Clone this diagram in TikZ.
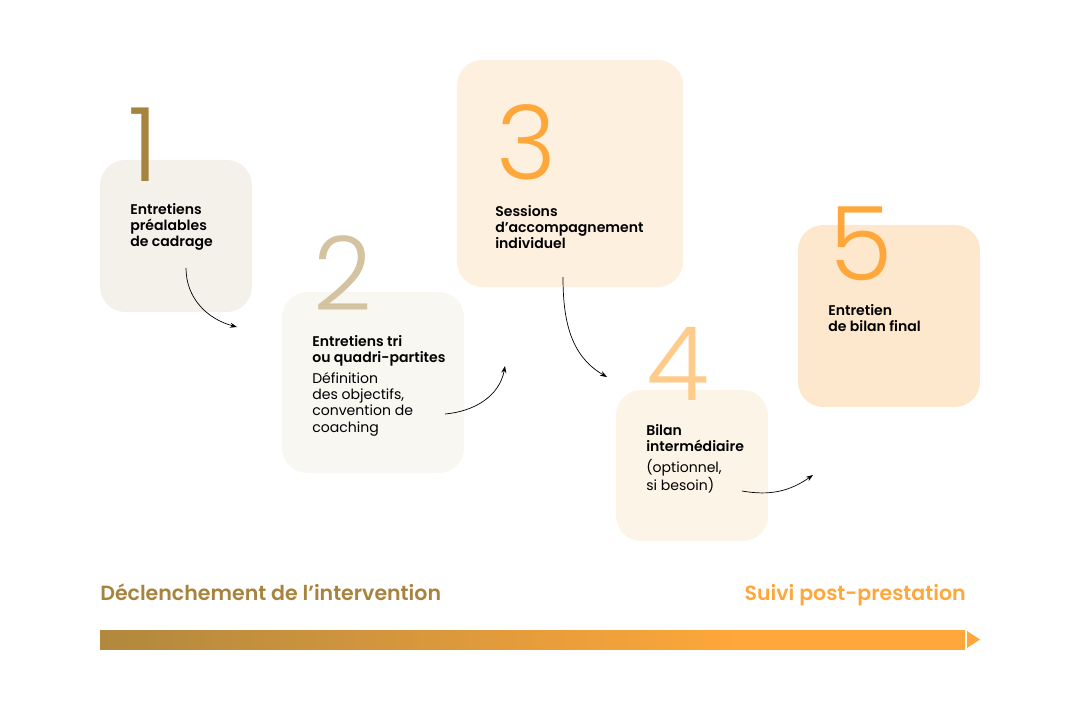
\documentclass[tikz,border=0pt]{standalone}
\usepackage{fontspec}
\setmainfont{Poppins}
\newfontfamily\semifont{Poppins SemiBold}
\newfontfamily\lightfont{Poppins Light}
\usetikzlibrary{arrows.meta,calc}
\definecolor{gold}{HTML}{A6843F}
\definecolor{tan}{HTML}{D3C3A0}
\definecolor{amber}{HTML}{FFA73A}
\definecolor{peach}{HTML}{FFCB8A}
\definecolor{fillA}{HTML}{F4F1EA}
\definecolor{fillB}{HTML}{F9F7F2}
\definecolor{fillC}{HTML}{FEF0DF}
\definecolor{fillD}{HTML}{FDF4E8}
\definecolor{fillE}{HTML}{FDE8CE}
\pgfdeclarehorizontalshading{timeline}{100bp}{color(0bp)=(gold); color(20bp)=(gold);
  color(62bp)=(amber); color(100bp)=(amber)}

\begin{document}
\begin{tikzpicture}[x=0.025cm,y=0.025cm,>=Stealth,
  card/.style={rounded corners=18pt,inner sep=0pt},
  digit/.style={font=\lightfont\fontsize{73}{73}\selectfont,anchor=base west,inner sep=0pt},
  label/.style={font=\fontsize{10}{11.6}\selectfont,anchor=north west,align=left,inner sep=0pt},
  flow/.style={-{Stealth[length=5pt,width=3.6pt]},line width=.5pt,black}]
  \useasboundingbox (0,0) rectangle (1080,700);

  % cards
  \node[card,fill=fillA,minimum width=3.8cm,minimum height=3.8cm] (b1) at (176,464) {};
  \node[card,fill=fillB,minimum width=4.55cm,minimum height=4.525cm] (b2) at (373,317.5) {};
  \node[card,fill=fillC,minimum width=5.65cm,minimum height=5.675cm] (b3) at (570,526.5) {};
  \node[card,fill=fillD,minimum width=3.8cm,minimum height=3.775cm] (b4) at (692,234.5) {};
  \node[card,fill=fillE,minimum width=4.55cm,minimum height=4.55cm] (b5) at (889,384) {};

  \node[digit,text=gold] (n1) at (128,518) {1};
  \node[digit,text=tan] (n2) at (313,390) {2};
  \node[digit,text=amber] (n3) at (496,520) {3};
  \node[digit,text=peach] (n4) at (646,300) {4};
  \node[digit,text=amber] (n5) at (829,420) {5};

  \node[label] (t1) at (130,497) {\semifont Entretiens\\\semifont préalables\\\semifont de cadrage};
  \node[label] (t2) at (312,365) {\semifont Entretiens tri\\\semifont ou quadri-partites\\[3pt]
    Définition\\des objectifs,\\convention de\\coaching};
  \node[label] (t3) at (495,495) {\semifont Sessions\\\semifont d’accompagnement\\\semifont individuel};
  \node[label] (t4) at (646,276) {\semifont Bilan\\\semifont intermédiaire\\[3pt]
    (optionnel,\\si besoin)};
  \node[label] (t5) at (828,396) {\semifont Entretien\\\semifont de bilan final};

  % connectors
  \coordinate (a1s) at (186,432);
  \coordinate (a1e) at (237,373);
  \coordinate (a2s) at (445,286);
  \coordinate (a2e) at (505,334);
  \coordinate (a3s) at (563,423);
  \coordinate (a3e) at (607,323);
  \coordinate (a4s) at (742,209);
  \coordinate (a4e) at (813,225);
  \draw[flow] (a1s) to[out=-90,in=165] (a1e);
  \draw[flow] (a2s) to[out=5,in=-100] (a2e);
  \draw[flow] (a3s) to[out=-90,in=150] (a3e);
  \draw[flow] (a4s) to[out=-10,in=215] (a4e);

  % timeline
  \node[font=\semifont\fontsize{14.6}{14.6}\selectfont,text=gold,anchor=base west,inner sep=0pt]
    (start) at (100,100) {Déclenchement de l’intervention};
  \node[font=\semifont\fontsize{14.6}{14.6}\selectfont,text=amber,anchor=base east,inner sep=0pt]
    (end) at (966,100) {Suivi post-prestation};
  \shade[shading=timeline] (100,51) rectangle (965,70);
  \fill[amber] (967,69) -- (980,60.5) -- (967,52) -- cycle;
\end{tikzpicture}
\end{document}
